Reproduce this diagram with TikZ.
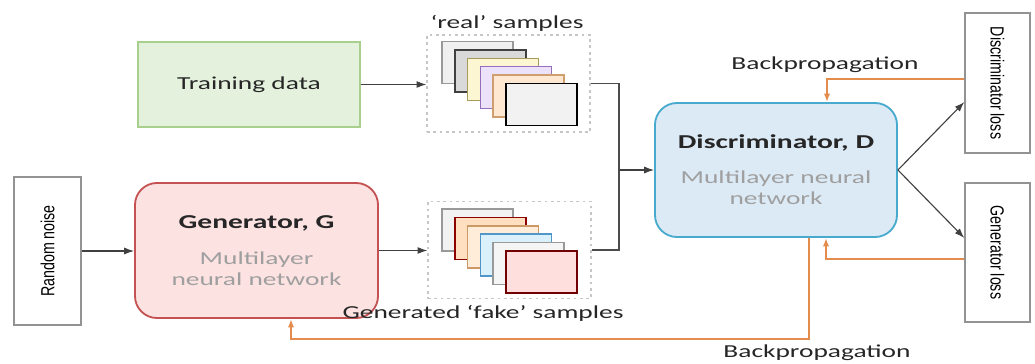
\documentclass[tikz,border=0pt]{standalone}
\usepackage{fontspec}
\setmainfont{Carlito}
\newfontfamily\wideface[FakeStretch=1.5]{Carlito}
\newfontfamily\narrowface[FakeStretch=0.75]{Liberation Sans}
\usetikzlibrary{arrows.meta,calc}
\definecolor{bporange}{RGB}{228,140,78}
\definecolor{genfill}{RGB}{253,226,226}
\definecolor{gendraw}{RGB}{196,82,82}
\definecolor{discfill}{RGB}{220,234,246}
\definecolor{discdraw}{RGB}{72,170,204}
\definecolor{trainfill}{RGB}{228,241,220}
\definecolor{traindraw}{RGB}{168,208,140}
\definecolor{lavfill}{RGB}{236,226,250}
\definecolor{lavdraw}{RGB}{150,110,190}
\definecolor{yelfill}{RGB}{253,246,210}
\definecolor{yeldraw}{RGB}{165,155,90}
\definecolor{cyfill}{RGB}{218,240,250}
\definecolor{cydraw}{RGB}{80,150,200}

\begin{document}
\begin{tikzpicture}[x=0.025cm, y=-0.025cm,
    every node/.style={inner sep=0pt},
    wtext/.style={font=\wideface\fontsize{13}{15}\selectfont, text=black!85},
    plainbox/.style={draw=gray!85, line width=1pt, fill=white,
        font=\narrowface\fontsize{13.5}{15}\selectfont},
    netbox/.style={rounded corners=0.55cm, line width=1.3pt, minimum width=6.05cm,
        minimum height=3.35cm, align=center, wtext},
    dashbox/.style={draw=gray!45, line width=0.9pt, dash pattern=on 2pt off 2.5pt,
        minimum width=4.075cm, minimum height=2.425cm},
    stackbox/.style={line width=1.1pt, minimum width=1.775cm, minimum height=1.05cm},
    flow/.style={draw=black!75, line width=0.8pt, -{Latex[length=7pt,width=5pt]}},
    bp/.style={draw=bporange, line width=1.3pt, -{Latex[length=6pt,width=4.5pt]}}]

    \useasboundingbox (0,0) rectangle (1035,363);

    % boxes
    \node[plainbox, minimum width=1.675cm, minimum height=3.7cm] (noise) at (47.5,251) {\rotatebox{90}{Random noise}};
    \node[netbox, fill=genfill, draw=gendraw, minimum width=6.075cm, minimum height=3.375cm] (gen) at (256.5,250.5)
        {{\bfseries\fontsize{14}{15}\selectfont Generator, G}\\[11pt]{\color{gray!75}Multilayer}\\{\color{gray!75}neural network}};
    \node[wtext, draw=traindraw, fill=trainfill, line width=1pt, minimum width=5.55cm, minimum height=2.125cm] (train) at (249,84.5) {Training data};
    \node[dashbox] (realbox) at (508.5,83.5) {};
    \node[dashbox] (fakebox) at (509.5,250) {};
    \node[netbox, fill=discfill, draw=discdraw] (disc) at (776,170)
        {{\bfseries\fontsize{14}{15}\selectfont Discriminator, D}\\[10pt]{\color{gray!75}Multilayer neural}\\{\color{gray!75}network}};
    \node[plainbox, minimum width=1.625cm, minimum height=3.5cm] (dloss) at (997.5,83) {\rotatebox{-90}{Discriminator loss}};
    \node[plainbox, minimum width=1.625cm, minimum height=3.475cm] (gloss) at (997.5,252.5) {\rotatebox{-90}{Generator loss}};

    % sample stacks
    \foreach \f/\d [count=\i] in {gray!12/gray!80, gray!30/black!75, yelfill/yeldraw, lavfill/lavdraw, orange!18/brown!75, gray!10/black}
        \node[stackbox, fill=\f, draw=\d] (real\i) at ({477.5+12.8*(\i-1)},{62.5+8.4*(\i-1)}) {};
    \foreach \f/\d [count=\i] in {gray!10/gray!80, orange!25/red!55!black, orange!15/brown!80, cyfill/cydraw, gray!8/gray!80, red!13/red!45!black}
        \node[stackbox, fill=\f, draw=\d] (fake\i) at ({477.5+12.8*(\i-1)},{230+8.4*(\i-1)}) {};

    % labels
    \node[wtext] (reallbl) at (507,23) {‘real’ samples};
    \node[wtext] (fakelbl) at (483,313) {Generated ‘fake’ samples};
    \node[wtext] (bptop) at (825,65) {Backpropagation};
    \node[wtext] (bpbot) at (817,353) {Backpropagation};

    % forward connectors
    \coordinate (join) at (619,170);
    \draw[flow] (noise.east) -- (noise.east -| gen.west);
    \draw[flow] (gen.east) -- (gen.east -| fakebox.west);
    \draw[flow] (train.east) -- (train.east -| realbox.west);
    \draw[draw=black!70, line width=0.8pt] (realbox.east) -| (join) |- (fakebox.east);
    \draw[flow] (join) -- (disc.west);
    \draw[flow] (disc.east) -- (dloss.west |- disc.north);
    \draw[flow] (disc.east) -- (gloss.west |- disc.south);

    % backpropagation
    \coordinate (bpt) at (827,79);
    \coordinate (bpb) at (826,259);
    \coordinate (bpl) at (809,339);
    \coordinate (bpg) at (291,339);
    \draw[bp] (bpt -| dloss.west) -- (bpt) -- (bpt |- disc.north);
    \draw[bp] (bpb -| gloss.west) -- (bpb) -- (bpb |- disc.south);
    \draw[bp] (bpl |- disc.south) -- (bpl) -- (bpg) -- (bpg |- gen.south);

\end{tikzpicture}
\end{document}
